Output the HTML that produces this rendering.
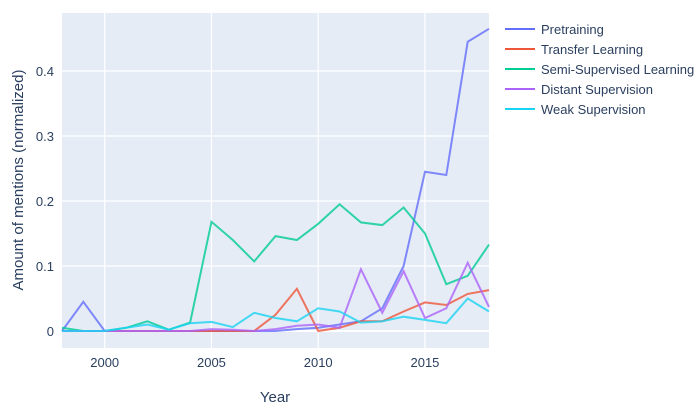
<!DOCTYPE html>
<html><head><meta charset="utf-8"><style>
html,body{margin:0;padding:0;background:#fff;width:700px;height:413px;overflow:hidden}
text{font-family:"Liberation Sans","DejaVu Sans",sans-serif;fill:#2a3f5f}
</style></head><body>
<svg id="s" width="700" height="413" xmlns="http://www.w3.org/2000/svg">
<rect x="62" y="13" width="427" height="335" fill="#e5ecf6"/>
<g id="grid" stroke="#fff" stroke-width="1.2"></g>
<g id="lines" fill="none" stroke-width="2"></g>
<g id="labels" font-size="13"></g>
<text x="275" y="402" font-size="15" text-anchor="middle">Year</text>
<text transform="translate(23,180) rotate(-90)" font-size="15" text-anchor="middle">Amount of mentions (normalized)</text>
<g font-size="13">
<line x1="505" y1="29" x2="535" y2="29" stroke="#636efa" stroke-width="2"/><text x="541" y="34">Pretraining</text>
<line x1="505" y1="49" x2="535" y2="49" stroke="#ef553b" stroke-width="2"/><text x="541" y="54">Transfer Learning</text>
<line x1="505" y1="69" x2="535" y2="69" stroke="#00cc96" stroke-width="2"/><text x="541" y="74">Semi-Supervised Learning</text>
<line x1="505" y1="89" x2="535" y2="89" stroke="#ab63fa" stroke-width="2"/><text x="541" y="94">Distant Supervision</text>
<line x1="505" y1="109" x2="535" y2="109" stroke="#19d3f3" stroke-width="2"/><text x="541" y="114">Weak Supervision</text>
</g>
</svg>
<script>
var X=function(y){return 62+(y-1998)*21.35},Y=function(v){return 331-650*v};
var g=document.getElementById('grid'),l=document.getElementById('labels'),L=document.getElementById('lines');
var h='',t='';
[2000,2005,2010,2015].forEach(function(y){h+='<line x1="'+X(y)+'" y1="13" x2="'+X(y)+'" y2="348"/>';t+='<text x="'+X(y)+'" y="367" text-anchor="middle">'+y+'</text>';});
[0,0.1,0.2,0.3,0.4].forEach(function(v){h+='<line x1="62" y1="'+Y(v)+'" x2="489" y2="'+Y(v)+'"'+(v==0?' stroke-width="2"':'')+'/>';t+='<text x="54" y="'+(Y(v)+5)+'" text-anchor="end">'+(v==0?'0':v)+'</text>';});
g.innerHTML=h;l.innerHTML=t;
var D=[
['#636efa',[0,.045,0,0,0,0,0,0,0,0,0,.003,.005,.01,.015,.035,.1,.245,.24,.445,.465]],
['#ef553b',[0,0,0,0,0,0,0,0,0,0,.025,.065,0,.005,.015,.015,.03,.044,.04,.057,.063]],
['#00cc96',[.005,0,0,.005,.015,.002,.013,.168,.14,.107,.146,.14,.165,.195,.167,.163,.19,.15,.072,.085,.133]],
['#ab63fa',[0,0,0,0,0,0,0,.003,.002,0,.003,.008,.01,.005,.095,.028,.092,.02,.035,.105,.037]],
['#19d3f3',[0,0,0,.005,.01,.002,.012,.014,.006,.028,.02,.015,.035,.03,.013,.015,.022,.017,.012,.05,.03]]];
var s='';
D.forEach(function(d){var p=d[1].map(function(v,i){return X(1998+i).toFixed(1)+','+Y(v).toFixed(1)});
s+='<polyline stroke="'+d[0]+'" stroke-opacity="0.8" points="'+p.join(' ')+'"/>';});
L.innerHTML=s;
</script>
</body></html>
